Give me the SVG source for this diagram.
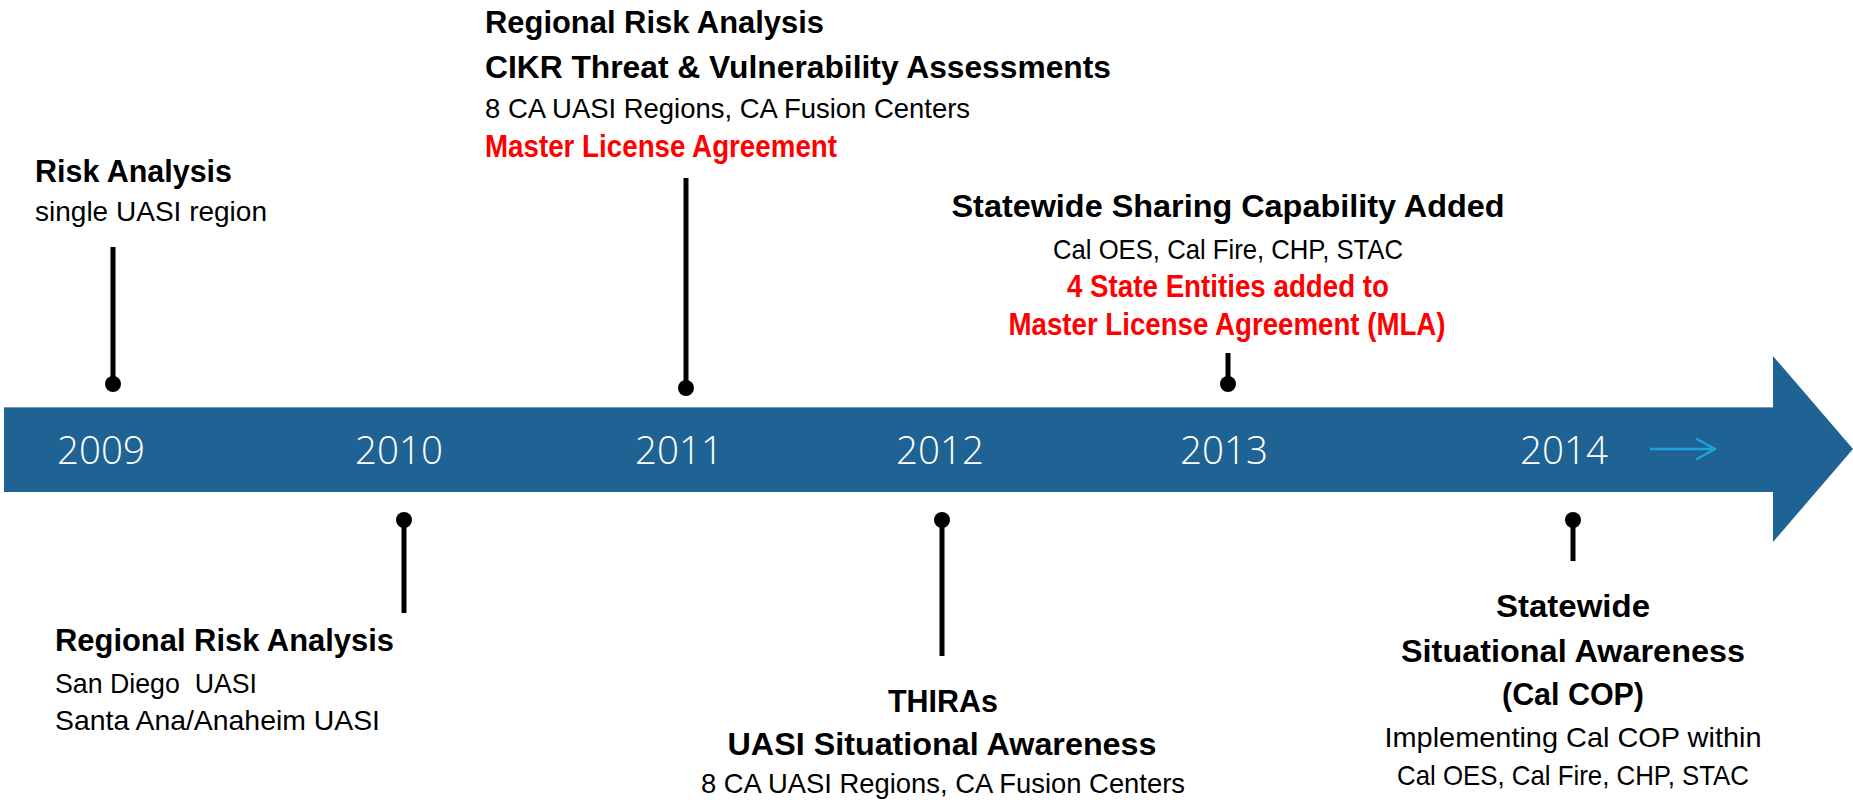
<svg xmlns="http://www.w3.org/2000/svg" width="1853" height="802" viewBox="0 0 1853 802">
<style>
.b{font-family:"Liberation Sans",Arial,sans-serif;font-weight:bold;font-size:31px;fill:#000}
.r{font-family:"Liberation Sans",Arial,sans-serif;font-size:28.5px;fill:#000}
.red{fill:#FF0000}
.m{text-anchor:middle}
.yr{font-family:"Open Sans","Liberation Sans",sans-serif;font-weight:300;font-size:38.5px;fill:#fff;text-anchor:middle}
.pin line{stroke:#000;stroke-width:5}
.pin circle{fill:#000}
</style>
<rect width="1853" height="802" fill="#fff"/>
<g id="timeline">
<polygon points="4,407 1773,407 1773,356 1853,449 1773,542 1773,492 4,492" fill="#1F6395"/>
<line x1="4" y1="407.5" x2="1773" y2="407.5" stroke="#6F97BC" stroke-width="1"/>
<text class="yr" x="101" y="464">2009</text>
<text class="yr" x="399" y="464">2010</text>
<text class="yr" x="679" y="464">2011</text>
<text class="yr" x="940" y="464">2012</text>
<text class="yr" x="1224" y="464">2013</text>
<text class="yr" x="1564" y="464">2014</text>
<g fill="none" stroke="#1CA3DC" stroke-width="2.5" stroke-linecap="round" stroke-linejoin="round">
<line x1="1651" y1="449" x2="1715" y2="449"/>
<polyline points="1697,439 1715,449 1697,459"/>
</g>
</g>
<g id="connectors" class="pin">
<line x1="113" y1="247" x2="113" y2="384"/><circle cx="113" cy="384" r="8"/>
<line x1="686" y1="178" x2="686" y2="388"/><circle cx="686" cy="388" r="8"/>
<line x1="1228" y1="353" x2="1228" y2="384"/><circle cx="1228" cy="384" r="8"/>
<line x1="404" y1="520" x2="404" y2="613"/><circle cx="404" cy="520" r="8"/>
<line x1="942" y1="520" x2="942" y2="656"/><circle cx="942" cy="520" r="8"/>
<line x1="1573" y1="520" x2="1573" y2="561"/><circle cx="1573" cy="520" r="8"/>
</g>
<g id="event-2009">
<text class="b" x="35" y="182" textLength="197" lengthAdjust="spacingAndGlyphs">Risk Analysis</text>
<text class="r" x="35" y="221" textLength="232" lengthAdjust="spacingAndGlyphs">single UASI region</text>
</g>
<g id="event-2011">
<text class="b" x="485" y="33" textLength="339" lengthAdjust="spacingAndGlyphs">Regional Risk Analysis</text>
<text class="b" x="485" y="78" textLength="626" lengthAdjust="spacingAndGlyphs">CIKR Threat &amp; Vulnerability Assessments</text>
<text class="r" x="485" y="118" textLength="485" lengthAdjust="spacingAndGlyphs">8 CA UASI Regions, CA Fusion Centers</text>
<text class="b red" x="485" y="157" textLength="352" lengthAdjust="spacingAndGlyphs">Master License Agreement</text>
</g>
<g id="event-2013">
<text class="b m" x="1228" y="217" textLength="553" lengthAdjust="spacingAndGlyphs">Statewide Sharing Capability Added</text>
<text class="r m" x="1228" y="259" textLength="350" lengthAdjust="spacingAndGlyphs">Cal OES, Cal Fire, CHP, STAC</text>
<text class="b m red" x="1228" y="297" textLength="322" lengthAdjust="spacingAndGlyphs">4 State Entities added to</text>
<text class="b m red" x="1227" y="335" textLength="437" lengthAdjust="spacingAndGlyphs">Master License Agreement (MLA)</text>
</g>
<g id="event-2010">
<text class="b" x="55" y="651" textLength="339" lengthAdjust="spacingAndGlyphs">Regional Risk Analysis</text>
<text class="r" x="55" y="693" textLength="202" lengthAdjust="spacingAndGlyphs" xml:space="preserve">San Diego  UASI</text>
<text class="r" x="55" y="730" textLength="325" lengthAdjust="spacingAndGlyphs">Santa Ana/Anaheim UASI</text>
</g>
<g id="event-2012">
<text class="b m" x="943" y="712" textLength="110" lengthAdjust="spacingAndGlyphs">THIRAs</text>
<text class="b m" x="942" y="755" textLength="429" lengthAdjust="spacingAndGlyphs">UASI Situational Awareness</text>
<text class="r m" x="943" y="793" textLength="484" lengthAdjust="spacingAndGlyphs">8 CA UASI Regions, CA Fusion Centers</text>
</g>
<g id="event-2014">
<text class="b m" x="1573" y="617" textLength="154" lengthAdjust="spacingAndGlyphs">Statewide</text>
<text class="b m" x="1573" y="662" textLength="344" lengthAdjust="spacingAndGlyphs">Situational Awareness</text>
<text class="b m" x="1573" y="705" textLength="142" lengthAdjust="spacingAndGlyphs">(Cal COP)</text>
<text class="r m" x="1573" y="747" textLength="377" lengthAdjust="spacingAndGlyphs">Implementing Cal COP within</text>
<text class="r m" x="1573" y="785" textLength="352" lengthAdjust="spacingAndGlyphs">Cal OES, Cal Fire, CHP, STAC</text>
</g>
</svg>
